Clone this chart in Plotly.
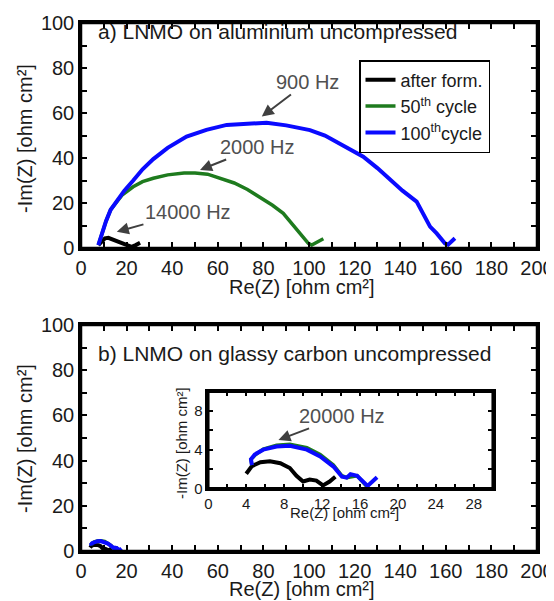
import plotly.graph_objects as go

# ---- data: panel a) LNMO on aluminium ----
a_form_x = [7.6, 9.0, 10.5, 12.0, 14.2, 16.5, 18.6, 20.5, 22.2, 24.0, 25.9]
a_form_y = [1.3, 3.0, 4.3, 4.5, 3.6, 2.8, 2.1, 1.2, 0.5, 1.3, 2.3]

a_50_x = [7.6, 9.0, 11.0, 13.0, 15.6, 18.0, 22.9, 27.0, 31.7, 38.0, 45.2, 50.0, 55.5, 61.0,
          67.2, 73.0, 78.9, 84.0, 88.7, 92.0, 94.6, 97.0, 99.7, 101.2, 103.5, 106.3]
a_50_y = [1.3, 6.0, 12.0, 17.0, 20.6, 23.5, 27.2, 29.5, 31.0, 32.5, 33.3, 33.3, 32.8, 31.0,
          28.9, 26.0, 22.4, 19.0, 15.4, 11.5, 8.0, 5.0, 2.1, 1.3, 2.5, 4.1]

a_100_x = [7.6, 9.0, 11.0, 13.0, 15.6, 19.0, 22.9, 27.0, 31.7, 38.0, 46.3, 55.0, 63.9, 72.0,
           81.4, 90.0, 100.4, 107.0, 113.6, 118.0, 123.8, 130.0, 135.5, 141.0, 147.2, 150.0,
           153.1, 156.0, 158.0, 159.6, 161.0, 162.5, 164.0]
a_100_y = [1.3, 6.0, 12.0, 17.0, 20.6, 25.5, 30.0, 35.0, 39.5, 44.5, 49.5, 52.5, 54.7, 55.3,
           55.7, 54.5, 52.4, 50.0, 46.5, 43.8, 40.6, 35.5, 30.2, 25.5, 20.6, 15.0,
           9.5, 6.5, 4.0, 2.1, 1.5, 2.8, 4.3]

# ---- data: panel b) LNMO on glassy carbon ----
b_form_x = [4.0, 4.6, 5.5, 6.5, 7.6, 8.6, 9.3, 10.0, 10.7, 11.4, 12.1, 12.8, 13.4]
b_form_y = [1.5, 2.3, 2.7, 2.8, 2.6, 2.1, 1.3, 0.7, 0.9, 0.8, 0.3, 0.7, 1.2]

b_50_x = [4.6, 4.5, 5.0, 5.8, 7.2, 8.6, 10.4, 11.8, 13.2, 14.1, 14.6, 15.7, 16.8]
b_50_y = [2.4, 3.0, 3.5, 4.05, 4.45, 4.55, 4.2, 3.5, 2.4, 1.3, 1.1, 1.3, 0.1]

b_100_x = [4.6, 4.5, 4.9, 5.8, 7.2, 8.6, 10.4, 11.8, 13.2, 14.1, 14.6, 15.0, 15.7, 16.8, 17.8]
b_100_y = [2.4, 3.0, 3.5, 4.0, 4.33, 4.4, 4.0, 3.3, 2.25, 1.2, 1.1, 1.45, 1.3, 0.25, 1.15]

# ---- frequency labels: (text, axis, arrow head x, head y, text centre x, text centre y) ----
freq_labels = [
    ("900 Hz", "", 79.3, 58.4, 99.3, 73.8),
    ("2000 Hz", "", 52.2, 34.7, 77.4, 44.9),
    ("14000 Hz", "", 15.7, 7.2, 46.9, 16.0),
    ("20000 Hz", "3", 7.4, 5.0, 14.1, 7.5),
]

# ---- ticks ----
main_tickvals = list(range(0, 201, 10))
main_ticktext = [str(v) if v % 20 == 0 else "" for v in main_tickvals]
main_ytickvals = list(range(0, 101, 10))
main_yticktext = [str(v) if v % 20 == 0 else "" for v in main_ytickvals]
inset_xtickvals = list(range(0, 31, 2))
inset_xticktext = [str(v) if v % 4 == 0 else "" for v in inset_xtickvals]
inset_ytickvals = list(range(0, 11, 2))
inset_yticktext = [str(v) if v % 4 == 0 else "" for v in inset_ytickvals]

series_names = ["after form.", "50<sup>th</sup> cycle", "100<sup>th</sup>cycle"]
series_colors = ["#000000", "#1e7b1e", "#0a0aff"]
series_widths = [4, 3.5, 4]

FONT = "Liberation Sans, Arial, sans-serif"
TXT = "#1a1a1a"
ANN_COLOR = "#505050"
ARROW_COLOR = "#404040"
W, H, OFF = 554, 601, 8  # page body margin offset


def px(xp):
    return (xp - OFF) / W


def py(yp):
    return 1 - (yp - OFF) / H


fig = go.Figure()

a_data = [(a_form_x, a_form_y), (a_50_x, a_50_y), (a_100_x, a_100_y)]
b_data = [(b_form_x, b_form_y), (b_50_x, b_50_y), (b_100_x, b_100_y)]

for i, (xs, ys) in enumerate(a_data):
    fig.add_trace(go.Scatter(x=xs, y=ys, mode="lines", name=series_names[i],
                             line=dict(color=series_colors[i], width=series_widths[i]),
                             xaxis="x", yaxis="y"))
for ax in [("x2", "y2"), ("x3", "y3")]:
    for i, (xs, ys) in enumerate(b_data):
        fig.add_trace(go.Scatter(x=xs, y=ys, mode="lines", showlegend=False,
                                 line=dict(color=series_colors[i], width=series_widths[i]),
                                 xaxis=ax[0], yaxis=ax[1]))


def make_axis(domain, rng, tickvals, ticktext, anchor, size, ticklen):
    return dict(domain=domain, range=rng, anchor=anchor, automargin=False,
                tickmode="array", tickvals=tickvals, ticktext=ticktext,
                showline=True, linecolor="black", linewidth=2.5, mirror="ticks",
                ticks="inside", ticklen=ticklen, tickwidth=2, tickcolor="black",
                showgrid=False, zeroline=False,
                tickfont=dict(family=FONT, size=size, color=TXT))


xdom = [px(81), px(537)]
top_y = [py(248), py(23)]
bot_y = [py(551), py(325)]

fig.update_layout(
    width=W, height=H,
    margin=dict(l=0, r=0, t=0, b=0, autoexpand=False),
    paper_bgcolor="white", plot_bgcolor="white",
    font=dict(family=FONT),
    xaxis=make_axis(xdom, [0, 200], main_tickvals, main_ticktext, "y", 20, 6),
    yaxis=make_axis(top_y, [0, 100], main_ytickvals, main_yticktext, "x", 20, 6),
    xaxis2=make_axis(xdom, [0, 200], main_tickvals, main_ticktext, "y2", 20, 6),
    yaxis2=make_axis(bot_y, [0, 100], main_ytickvals, main_yticktext, "x2", 20, 6),
    xaxis3=make_axis([px(208.3), px(492.7)], [0, 30], inset_xtickvals, inset_xticktext, "y3", 15, 5),
    yaxis3=make_axis([py(488.3), py(391.7)], [0, 10], inset_ytickvals, inset_yticktext, "x3", 15, 5),
    legend=dict(x=px(359), y=py(60), xanchor="left", yanchor="top",
                bordercolor="black", borderwidth=1.5, bgcolor="white",
                font=dict(family=FONT, size=18, color=TXT)),
    showlegend=True,
)

# plot frames on the axis domains (reinforce the axis lines)
for sfx in ["", "2", "3"]:
    fig.add_shape(type="rect", xref=f"x{sfx} domain", yref=f"y{sfx} domain",
                  x0=0, x1=1, y0=0, y1=1, line=dict(color="black", width=2.5),
                  fillcolor="rgba(0,0,0,0)", layer="above")


def title_ann(text, xp, yp, size, angle=0):
    return dict(text=text, xref="paper", yref="paper", x=px(xp), y=py(yp),
                xanchor="center", yanchor="middle", showarrow=False, textangle=angle,
                font=dict(family=FONT, size=size, color=TXT))


annotations = [
    dict(text="a) LNMO on aluminium uncompressed", xref="paper", yref="paper",
         x=px(96), y=py(32), xanchor="left", yanchor="middle", showarrow=False,
         font=dict(family=FONT, size=21, color=TXT)),
    dict(text="b) LNMO on glassy carbon uncompressed", xref="paper", yref="paper",
         x=px(96), y=py(353), xanchor="left", yanchor="middle", showarrow=False,
         font=dict(family=FONT, size=21, color=TXT)),
    # main axis titles
    title_ann("Re(Z) [ohm cm²]", 302, 287, 20),
    title_ann("-Im(Z) [ohm cm²]", 25, 139, 20, -90),
    title_ann("Re(Z) [ohm cm²]", 302, 589, 20),
    title_ann("-Im(Z) [ohm cm²]", 25, 439, 20, -90),
    # inset axis titles
    title_ann("Re(Z) [ohm cm²]", 344, 512, 15),
    title_ann("-Im(Z) [ohm cm²]", 181, 443, 15, -90),
]

for text, sfx, hx, hy, tx, ty in freq_labels:
    annotations.append(dict(text=text, xref="x" + sfx, yref="y" + sfx, x=hx, y=hy,
                            axref="x" + sfx, ayref="y" + sfx, ax=tx, ay=ty,
                            showarrow=True, arrowhead=2, arrowsize=1.2, arrowwidth=2,
                            arrowcolor=ARROW_COLOR,
                            font=dict(family=FONT, size=20, color=ANN_COLOR)))

fig.update_layout(annotations=annotations)

fig.write_html("out.html")
